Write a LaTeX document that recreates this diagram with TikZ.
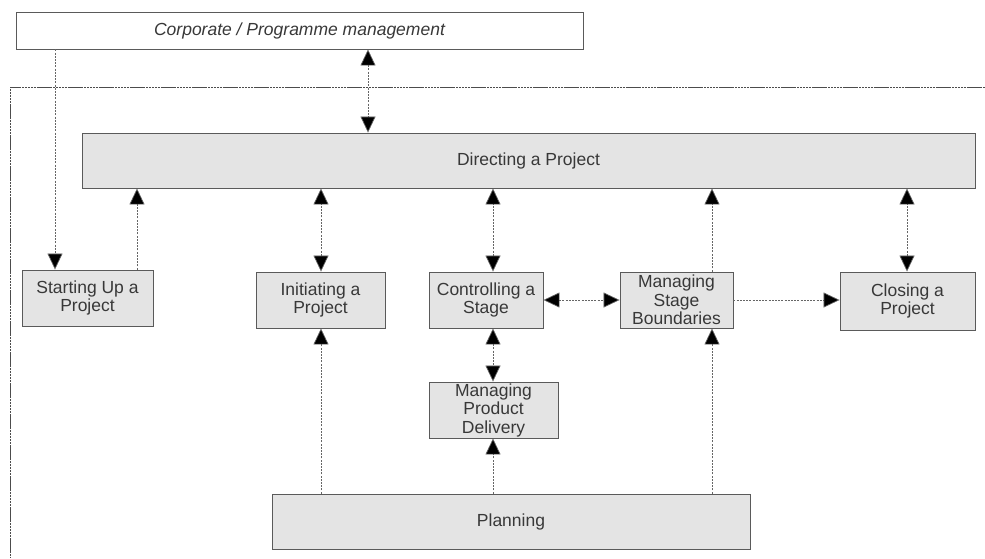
\documentclass[tikz,border=0pt]{standalone}
\usepackage{fontspec}
\setmainfont{Liberation Sans}
\usetikzlibrary{arrows.meta}
\definecolor{boxfill}{HTML}{E4E4E4}
\definecolor{boxline}{HTML}{5A5A5A}
\definecolor{txt}{HTML}{383838}
\tikzset{
  x=1pt, y=-1pt,
  procbox/.style={draw=boxline, line width=0.9pt, fill=boxfill, text=txt, align=center,
    font=\fontsize{17.5}{18.5}\selectfont, inner sep=0pt},
  conn/.style={draw=black!60, line width=0.7pt, dash pattern=on 2pt off 1.2pt},
  uni/.style={conn, -{Triangle[length=16pt,width=15pt,fill=black]}},
  bi/.style={conn, {Triangle[length=16pt,width=15pt,fill=black]}-{Triangle[length=16pt,width=15pt,fill=black]}},
  frame/.style={draw=black!70, line width=0.9pt, dash pattern=on 2.5pt off 0.6pt}
}
\begin{document}
\begin{tikzpicture}
\useasboundingbox[fill=white] (0,0) rectangle (985,558);
% outer frame (top and left edges)
\coordinate (fTL) at (10,87);
\coordinate (fTR) at (985,87);
\coordinate (fBL) at (10,558);
\draw[frame] (fTR) -- (fTL) -- (fBL);

\node[procbox, fill=white, font=\itshape\fontsize{17.5}{18.5}\selectfont, minimum width=567pt, minimum height=37pt] (corp) at (299.5,30.5) {Corporate / Programme management};
\node[procbox, minimum width=893pt, minimum height=55pt] (dir) at (528.5,160.5) {Directing a Project};
\node[procbox, minimum width=131pt, minimum height=56pt] (start) at (87.5,298) {Starting Up a\\Project};
\node[procbox, minimum width=129pt, minimum height=56pt] (init) at (320.5,300) {Initiating a\\Project};
\node[procbox, minimum width=114pt, minimum height=56pt] (ctrl) at (486,300) {Controlling a\\Stage};
\node[procbox, minimum width=113pt, minimum height=56pt] (msb) at (676.5,300) {Managing\\Stage\\Boundaries};
\node[procbox, minimum width=135pt, minimum height=58pt] (close) at (907.5,301) {Closing a\\Project};
\node[procbox, minimum width=129pt, minimum height=56pt] (mpd) at (493.5,410) {Managing\\Product\\Delivery};
\node[procbox, minimum width=478pt, minimum height=55pt] (plan) at (511,521.5) {Planning};

% column coordinates
\coordinate (xA) at (368,0);
\coordinate (xB) at (55,0);
\coordinate (xC) at (137,0);
\coordinate (xD) at (321,0);
\coordinate (xE) at (493,0);
\coordinate (xF) at (712,0);
\coordinate (xG) at (907,0);
\coordinate (yH) at (0,300);

\draw[bi] (corp.south -| xA) -- (dir.north -| xA);
\draw[uni] (corp.south -| xB) -- (start.north -| xB);
\draw[uni] (start.north -| xC) -- (dir.south -| xC);
\draw[bi] (init.north -| xD) -- (dir.south -| xD);
\draw[bi] (ctrl.north -| xE) -- (dir.south -| xE);
\draw[uni] (msb.north -| xF) -- (dir.south -| xF);
\draw[bi] (close.north -| xG) -- (dir.south -| xG);
\draw[bi] (ctrl.east |- yH) -- (msb.west |- yH);
\draw[uni] (msb.east |- yH) -- (close.west |- yH);
\draw[bi] (ctrl.south -| xE) -- (mpd.north -| xE);
\draw[uni] (plan.north -| xD) -- (init.south -| xD);
\draw[uni] (plan.north -| xE) -- (mpd.south -| xE);
\draw[uni] (plan.north -| xF) -- (msb.south -| xF);
\end{tikzpicture}
\end{document}
